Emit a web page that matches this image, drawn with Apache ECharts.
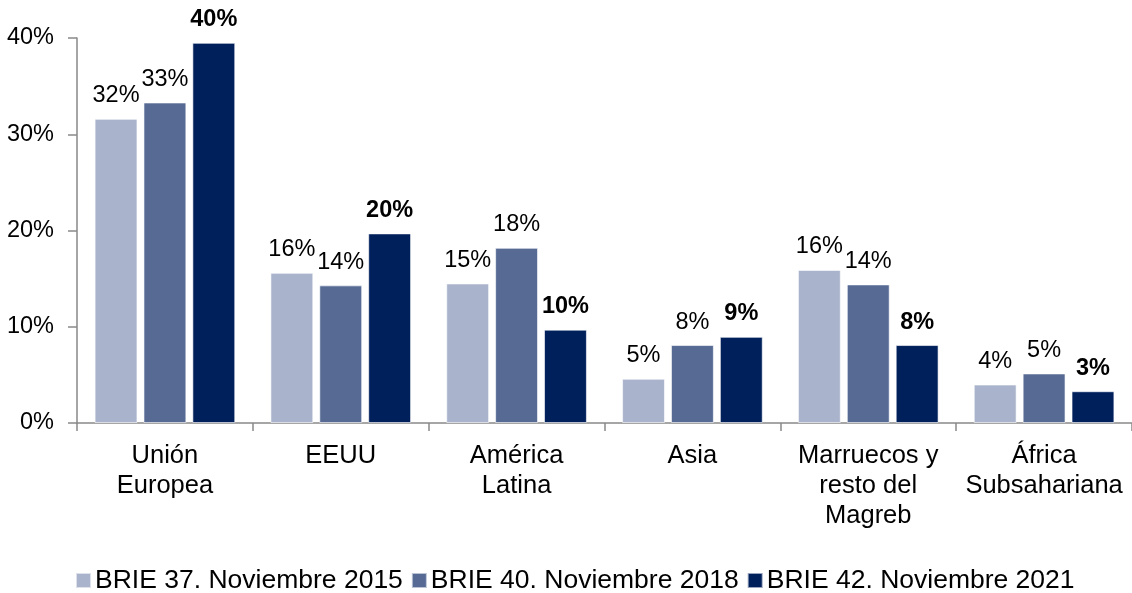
<!DOCTYPE html>
<html><head><meta charset="utf-8">
<script src="https://cdn.jsdelivr.net/npm/echarts@6/dist/echarts.min.js"></script>
<style>html,body{margin:0;padding:0;background:#fff}#c{width:1132px;height:593px}</style>
</head><body><div id="c"></div>
<script>
const categories = ['Unión\nEuropea', 'EEUU', 'América\nLatina', 'Asia', 'Marruecos y\nresto del\nMagreb', 'África\nSubsahariana'];
const seriesNames = ['BRIE 37. Noviembre 2015', 'BRIE 40. Noviembre 2018', 'BRIE 42. Noviembre 2021'];
const brie2015 = [31.6, 15.6, 14.5, 4.6, 15.9, 4.0];
const brie2018 = [33.3, 14.3, 18.2, 8.1, 14.4, 5.15];
const brie2021 = [39.5, 19.7, 9.7, 8.95, 8.1, 3.3];
const yTicks = [0, 10, 20, 30, 40];
const colors = ['#A9B3CB', '#566A94', '#00205B'];

const chart = echarts.init(document.getElementById('c'));
const font = 'Liberation Sans, Arial, sans-serif';
function mk(name, data, color, bold) {
  return {
    name, type: 'bar', data,
    barGap: '14%', barCategoryGap: '20%',
    itemStyle: { color, borderColor: 'rgba(255,255,255,0.6)', borderWidth: 1 },
    label: {
      show: true, position: 'top', distance: 11,
      fontFamily: font, fontSize: 23.5, color: '#000',
      fontWeight: bold ? 'bold' : 'normal',
      formatter: p => Math.round(p.value) + '%'
    }
  };
}
chart.setOption({
  animation: false,
  textStyle: { fontFamily: font },
  grid: { left: 77, right: 0, top: 38, bottom: 170, containLabel: false },
  legend: {
    top: 562, left: 70, itemWidth: 15, itemHeight: 15, itemGap: 8,
    icon: 'rect',
    textStyle: { fontFamily: font, fontSize: 26.5, color: '#000', padding: [0, 0, 0, -1] },
    data: seriesNames
  },
  xAxis: {
    type: 'category', data: categories,
    axisLine: { lineStyle: { color: '#898989', width: 1.5 } },
    axisTick: { show: true, length: 8, lineStyle: { color: '#898989', width: 1.5 } },
    axisLabel: { fontFamily: font, fontSize: 25.5, color: '#000', margin: 18, lineHeight: 30, interval: 0 }
  },
  yAxis: {
    type: 'value', min: 0, max: 40, interval: 10,
    axisLine: { show: true, lineStyle: { color: '#898989', width: 1.5 } },
    axisTick: { show: true, length: 9, lineStyle: { color: '#898989', width: 1.5 } },
    splitLine: { show: false },
    axisLabel: { fontFamily: font, fontSize: 23.5, color: '#000', margin: 23,
      formatter: v => yTicks.includes(v) ? v + '%' : '' }
  },
  series: [
    mk(seriesNames[0], brie2015, colors[0], false),
    mk(seriesNames[1], brie2018, colors[1], false),
    mk(seriesNames[2], brie2021, colors[2], true)
  ]
});
</script></body></html>
